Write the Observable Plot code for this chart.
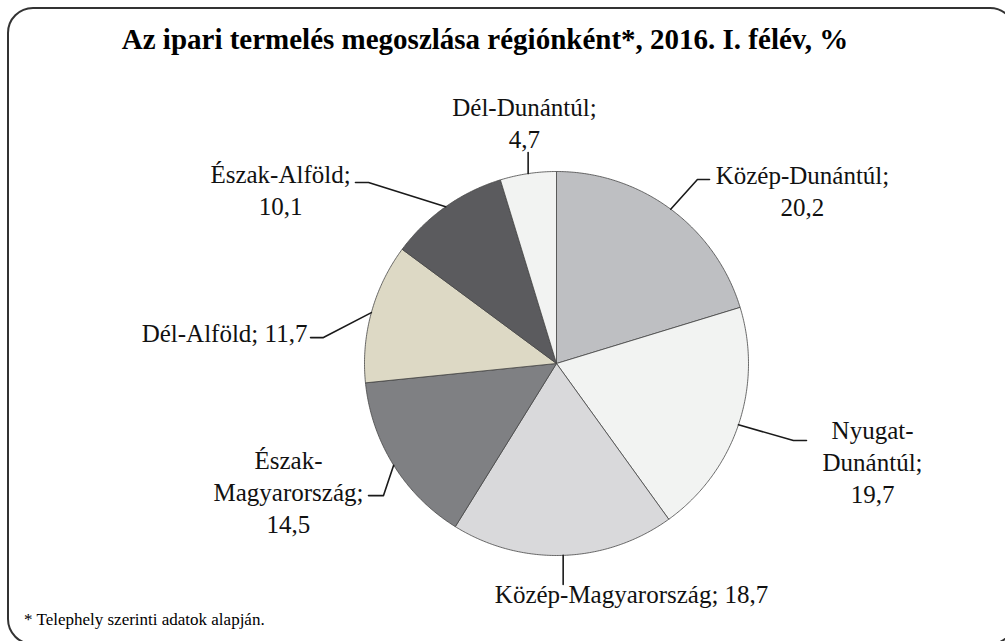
<!DOCTYPE html>
<html><head><meta charset="utf-8">
<script src="https://cdn.jsdelivr.net/npm/d3@7"></script>
<script src="https://cdn.jsdelivr.net/npm/@observablehq/plot@0.6"></script>
<style>
body{margin:0;background:#fff;}
#wrap{position:relative;width:1005px;height:641px;overflow:hidden;color:#000;font-family:"Liberation Serif",serif;}
#frame{position:absolute;left:7px;top:7px;width:1009px;height:638px;border:2px solid #333;border-radius:26px;box-sizing:border-box;}
#title{position:absolute;left:0;width:970px;top:21px;text-align:center;font-weight:bold;font-size:29px;line-height:36px;}
#note{position:absolute;left:24px;top:610px;font-size:17px;}
#chart{position:absolute;left:0;top:0;}
</style></head>
<body><div id="wrap"><div id="frame"></div><div id="title">Az ipari termelés megoszlása régiónként*, 2016. I. félév, %</div><div id="chart"></div><div id="note">* Telephely szerinti adatok alapján.</div></div>
<script>
// Data (clockwise from 12 o'clock)
const regions = ["Közép-Dunántúl", "Nyugat-\nDunántúl", "Közép-Magyarország", "Észak-\nMagyarország", "Dél-Alföld", "Észak-Alföld", "Dél-Dunántúl"];
const values = [20.2, 19.7, 18.7, 14.5, 11.7, 10.1, 4.7];
const colors = ["#bebfc2", "#f2f3f2", "#d9d9db", "#7f8083", "#ddd9c5", "#5b5b5e", "#f2f3f2"];
const separators = ["\n", "\n", " ", "\n", " ", "\n", "\n"];

// Label layout (in pie-radius units, relative to the pie centre)
const labelX = [1.281, 1.646, 0.391, -1.396, -1.729, -1.4375, -0.167];
const labelY = [0.906, -0.505, -1.193, -0.661, 0.165, 0.911, 1.258];
const elbowX = [0.734, 1.234, null, -0.901, -1.214, -0.979, null];
const elbowY = [0.958, -0.401, -1.151, -0.688, 0.135, 0.943, 1.099];
const endX   = [0.797, 1.302, null, -0.979, -1.281, -1.047, null];

const R = 192, CX = 556, CY = 363, W = 1005, H = 641;
const fmt = v => String(v).replace(".", ",");

const arcs = d3.pie().sort(null).value(d => d)(values);
const pt = (a, rho) => ({x: rho * Math.sin(a), y: rho * Math.cos(a)});

const sliceMarks = arcs.map((a, i) => {
  const pts = [{x: 0, y: 0}];
  const n = Math.max(2, Math.ceil((a.endAngle - a.startAngle) / (Math.PI / 360)));
  for (let k = 0; k <= n; k++) pts.push(pt(a.startAngle + (a.endAngle - a.startAngle) * k / n, 1));
  pts.push({x: 0, y: 0});
  return Plot.line(pts, {x: "x", y: "y", fill: colors[i], stroke: "#454545", strokeWidth: 0.8});
});

const leaders = [];
arcs.forEach((a, i) => {
  const mid = (a.startAngle + a.endAngle) / 2;
  const p = pt(mid, 1);
  leaders.push({id: i, x: p.x, y: p.y});
  const ex = elbowX[i] == null ? p.x : elbowX[i];
  leaders.push({id: i, x: ex, y: elbowY[i]});
  if (endX[i] != null) leaders.push({id: i, x: endX[i], y: elbowY[i]});
});

const labelData = values.map((v, i) => ({
  x: labelX[i], y: labelY[i], text: regions[i] + ";" + separators[i] + fmt(v)
}));

const chart = Plot.plot({
  width: W, height: H, margin: 0,
  x: {domain: [-CX / R, (W - CX) / R], axis: null},
  y: {domain: [-(H - CY) / R, CY / R], axis: null},
  style: {background: "transparent", overflow: "visible", fontFamily: "Liberation Serif"},
  marks: [
    ...sliceMarks,
    Plot.line(leaders, {x: "x", y: "y", z: "id", stroke: "#1a1a1a", strokeWidth: 1.6}),
    Plot.text(labelData, {x: "x", y: "y", text: "text", fontSize: 25, lineHeight: 1.28,
      fontFamily: "Liberation Serif", fill: "#111", textAnchor: "middle"})
  ]
});
document.getElementById("chart").appendChild(chart);
</script>
</body></html>
